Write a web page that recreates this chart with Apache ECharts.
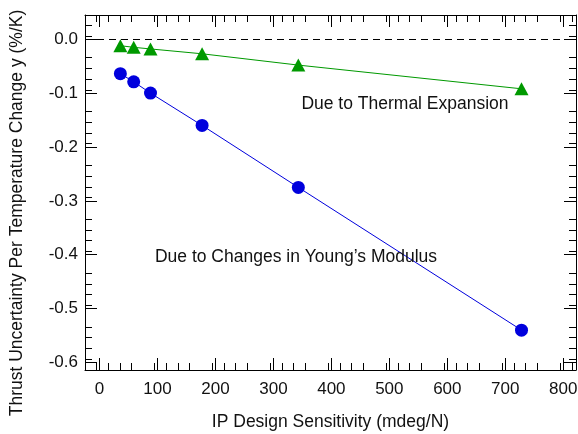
<!DOCTYPE html>
<html>
<head>
<meta charset="utf-8">
<script src="https://cdn.jsdelivr.net/npm/echarts@6/dist/echarts.min.js"></script>
<style>
  html, body { margin: 0; padding: 0; background: #fff; }
  #chart { width: 578px; height: 434px; }
</style>
</head>
<body>
<div id="chart"></div>
<script>
// IP design sensitivity (mdeg/N)
const sensitivity = [36, 59, 88, 177, 343, 728];
// Thrust uncertainty per temperature change (%/K)
const youngsModulus = [-0.064, -0.079, -0.100, -0.160, -0.275, -0.540];
const thermalExpansion = [-0.012, -0.015, -0.018, -0.027, -0.048, -0.092];

const xTicks = [0, 100, 200, 300, 400, 500, 600, 700, 800];
const yTicks = [0.0, -0.1, -0.2, -0.3, -0.4, -0.5, -0.6];

const FONT = 'Liberation Sans, Arial, sans-serif';
const BLUE = '#0000dd';
const GREEN = '#009900';
const TEXT = '#111';

const pairs = (xs, ys) => xs.map((x, i) => [x, ys[i]]);

const chart = echarts.init(document.getElementById('chart'), null, { renderer: 'canvas' });

const tickStyle = { lineStyle: { color: '#000', width: 1 } };
const baseX = {
  type: 'value', min: -25, max: 822, interval: 100,
  axisLine: { show: true, onZero: false, lineStyle: { color: '#000', width: 1 } },
  axisTick: { show: true, inside: true, length: 12, customValues: xTicks, ...tickStyle },
  minorTick: { show: true, splitNumber: 5, length: 7, ...tickStyle },
  splitLine: { show: false },
};
const baseY = {
  type: 'value', min: -0.614, max: 0.045, interval: 0.1,
  axisLine: { show: true, onZero: false, lineStyle: { color: '#000', width: 1 } },
  axisTick: { show: true, inside: true, length: 12, customValues: yTicks, ...tickStyle },
  minorTick: { show: true, splitNumber: 5, length: 7, ...tickStyle },
  splitLine: { show: false },
};

chart.setOption({
  animation: false,
  backgroundColor: '#fff',
  grid: { left: 85, right: 2, top: 15, bottom: 64, containLabel: false, outerBoundsMode: 'none' },
  xAxis: [
    {
      ...baseX, position: 'bottom',
      axisLabel: { show: true, customValues: xTicks, color: TEXT, fontSize: 17, fontFamily: FONT, margin: 11 },
      name: 'IP Design Sensitivity (mdeg/N)', nameLocation: 'middle', nameGap: 43,
      nameTextStyle: { color: TEXT, fontSize: 17.5, fontFamily: FONT },
    },
    { ...baseX, position: 'top', axisLabel: { show: false } },
  ],
  yAxis: [
    {
      ...baseY, position: 'left',
      axisLabel: {
        show: true, customValues: yTicks, color: TEXT, fontSize: 17, fontFamily: FONT, margin: 7,
        formatter: v => v.toFixed(1),
      },
    },
    { ...baseY, position: 'right', axisLabel: { show: false } },
  ],
  graphic: [
    {
      type: 'text', x: 17, y: 213, rotation: Math.PI / 2,
      style: {
        text: 'Thrust Uncertainty Per Temperature Change y (%/K)',
        fill: TEXT, font: '17.5px ' + FONT, align: 'center', verticalAlign: 'middle',
      },
    },
  ],
  series: [
    {
      name: 'Due to Thermal Expansion', type: 'line',
      data: pairs(sensitivity, thermalExpansion),
      symbol: 'triangle', symbolSize: [14, 13],
      itemStyle: { color: GREEN }, lineStyle: { color: GREEN, width: 1 },
      markLine: {
        silent: true, symbol: ['none', 'none'],
        label: { show: false },
        lineStyle: { color: '#000', type: [7, 5], width: 1 },
        data: [{ yAxis: 0 }],
      },
      markPoint: {
        symbol: 'rect', symbolSize: 1, itemStyle: { color: 'transparent' },
        label: {
          show: true, formatter: 'Due to Thermal Expansion', position: 'inside',
          color: TEXT, fontSize: 17.5, fontFamily: FONT,
        },
        data: [{ coord: [527, -0.120] }],
      },
      z: 3,
    },
    {
      name: "Due to Changes in Young's Modulus", type: 'line',
      data: pairs(sensitivity, youngsModulus),
      symbol: 'circle', symbolSize: 13,
      itemStyle: { color: BLUE }, lineStyle: { color: BLUE, width: 1 },
      markPoint: {
        symbol: 'rect', symbolSize: 1, itemStyle: { color: 'transparent' },
        label: {
          show: true, formatter: "Due to Changes in Young’s Modulus", position: 'inside',
          color: TEXT, fontSize: 17.5, fontFamily: FONT,
        },
        data: [{ coord: [339, -0.405] }],
      },
      z: 3,
    },
  ],
});
</script>
</body>
</html>
